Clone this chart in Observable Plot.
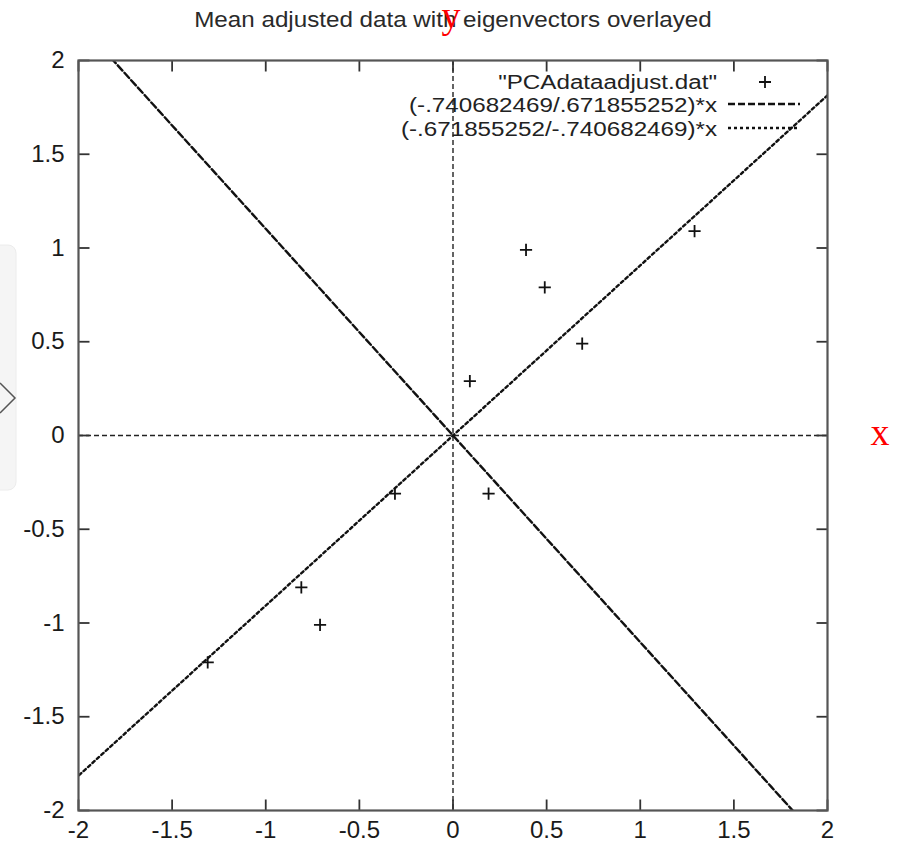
<!DOCTYPE html>
<html><head><meta charset="utf-8">
<script src="https://cdn.jsdelivr.net/npm/d3@7"></script>
<script src="https://cdn.jsdelivr.net/npm/@observablehq/plot@0.6"></script>
<style>body{margin:0;background:#fff;} #chart{position:relative;width:898px;height:848px;}</style>
</head><body><div id="chart"></div>
<script>
const titleText = "Mean adjusted data with eigenvectors overlayed";
const pointsX = [0.69, -1.31, 0.39, 0.09, 1.29, 0.49, 0.19, -0.81, -0.31, -0.71];
const pointsY = [0.49, -1.21, 0.99, 0.29, 1.09, 0.79, -0.31, -0.81, -0.31, -1.01];
const slopeNum = [-0.740682469, -0.671855252];
const slopeDen = [0.671855252, -0.740682469];
const legendLabels = ['"PCAdataadjust.dat"', '(-.740682469/.671855252)*x', '(-.671855252/-.740682469)*x'];
const tickValues = [-2, -1.5, -1, -0.5, 0, 0.5, 1, 1.5, 2];
const tickLabels = ["-2", "-1.5", "-1", "-0.5", "0", "0.5", "1", "1.5", "2"];
const axisNames = ["x", "y"];

const points = pointsX.map((x, i) => ({x, y: pointsY[i]}));
const lineData = [];
slopeNum.forEach((n, s) => {
  const k = n / slopeDen[s];
  d3.range(-2.4, 2.41, 0.1).forEach(x => lineData.push({s, x, y: k * x}));
});
const fmt = d => tickLabels[tickValues.indexOf(d)];
const mkTick = (dx, dy) => ({draw(ctx) { ctx.moveTo(0, 0); ctx.lineTo(dx, dy); }});
const TL = 11;
const lo = tickValues[0], hi = tickValues[tickValues.length - 1];

const svg = Plot.plot({
  width: 898, height: 848,
  marginLeft: 78, marginRight: 71, marginTop: 60, marginBottom: 38,
  x: {domain: [lo, hi]}, y: {domain: [lo, hi]},
  style: {fontFamily: "Liberation Sans, Arial, sans-serif", color: "#1a1a1a", background: "transparent"},
  marks: [
    Plot.ruleX([0], {stroke: "#222", strokeWidth: 1.4, strokeDasharray: "5,3"}),
    Plot.ruleY([0], {stroke: "#222", strokeWidth: 1.4, strokeDasharray: "5,3"}),
    Plot.line(lineData.filter(d => d.s === 0), {x: "x", y: "y", stroke: "#111", strokeWidth: 2.4, strokeDasharray: "7,3", clip: true}),
    Plot.line(lineData.filter(d => d.s === 1), {x: "x", y: "y", stroke: "#111", strokeWidth: 2.4, strokeDasharray: "3,3", clip: true}),
    Plot.dot(points, {x: "x", y: "y", symbol: "plus", r: 4, stroke: "#111", strokeWidth: 1.8}),
    Plot.dot(tickValues, {x: d => d, y: lo, symbol: mkTick(0, -TL), fill: "none", stroke: "#333", strokeWidth: 1.8}),
    Plot.dot(tickValues, {x: d => d, y: hi, symbol: mkTick(0, TL), fill: "none", stroke: "#333", strokeWidth: 1.8}),
    Plot.dot(tickValues, {x: lo, y: d => d, symbol: mkTick(TL, 0), fill: "none", stroke: "#333", strokeWidth: 1.8}),
    Plot.dot(tickValues, {x: hi, y: d => d, symbol: mkTick(-TL, 0), fill: "none", stroke: "#333", strokeWidth: 1.8}),
    Plot.frame({stroke: "#555", strokeWidth: 2.2}),
    Plot.axisX(tickValues, {tickSize: 0, tickPadding: 10, tickFormat: fmt, fontSize: 24, label: null}),
    Plot.axisY(tickValues, {tickSize: 0, tickPadding: 14, tickFormat: fmt, fontSize: 24, label: null})
  ]
});

const root = d3.select(svg);
// left side panel artifact
root.insert("rect", ":first-child").attr("x", -10).attr("y", 245).attr("width", 26).attr("height", 245)
  .attr("rx", 8).attr("fill", "#f5f5f5").attr("stroke", "#ececec");
root.append("polyline").attr("points", "0,383 15,398 0,413").attr("fill", "none").attr("stroke", "#555").attr("stroke-width", 1.5);

// title
root.append("text").attr("transform", "translate(453,27) scale(1.1,1)").attr("text-anchor", "middle")
  .attr("font-size", 22).attr("fill", "#2a2a2a").text(titleText);

// legend
const leg = root.append("g").attr("fill", "#222");
const rowY = [89, 112, 136];
legendLabels.forEach((t, i) => {
  leg.append("text").attr("transform", `translate(717,${rowY[i]}) scale(1.21,1)`).attr("text-anchor", "end")
    .attr("font-size", 20).text(t);
});
leg.append("path").attr("d", "M759,82h12M765,76v12").attr("stroke", "#111").attr("stroke-width", 1.8);
leg.append("line").attr("x1", 728).attr("x2", 800).attr("y1", 104).attr("y2", 104)
  .attr("stroke", "#111").attr("stroke-width", 2.4).attr("stroke-dasharray", "7,3");
leg.append("line").attr("x1", 728).attr("x2", 800).attr("y1", 128).attr("y2", 128)
  .attr("stroke", "#111").attr("stroke-width", 2.4).attr("stroke-dasharray", "3,3");

// red annotations
root.append("text").attr("x", 451).attr("y", 28).attr("text-anchor", "middle").attr("font-family", "Liberation Serif, serif")
  .attr("font-size", 38).attr("fill", "#f00").text(axisNames[1]);
root.append("text").attr("x", 880).attr("y", 445).attr("text-anchor", "middle").attr("font-family", "Liberation Serif, serif")
  .attr("font-size", 38).attr("fill", "#f00").text(axisNames[0]);

document.getElementById("chart").appendChild(svg);
</script>
</body></html>
